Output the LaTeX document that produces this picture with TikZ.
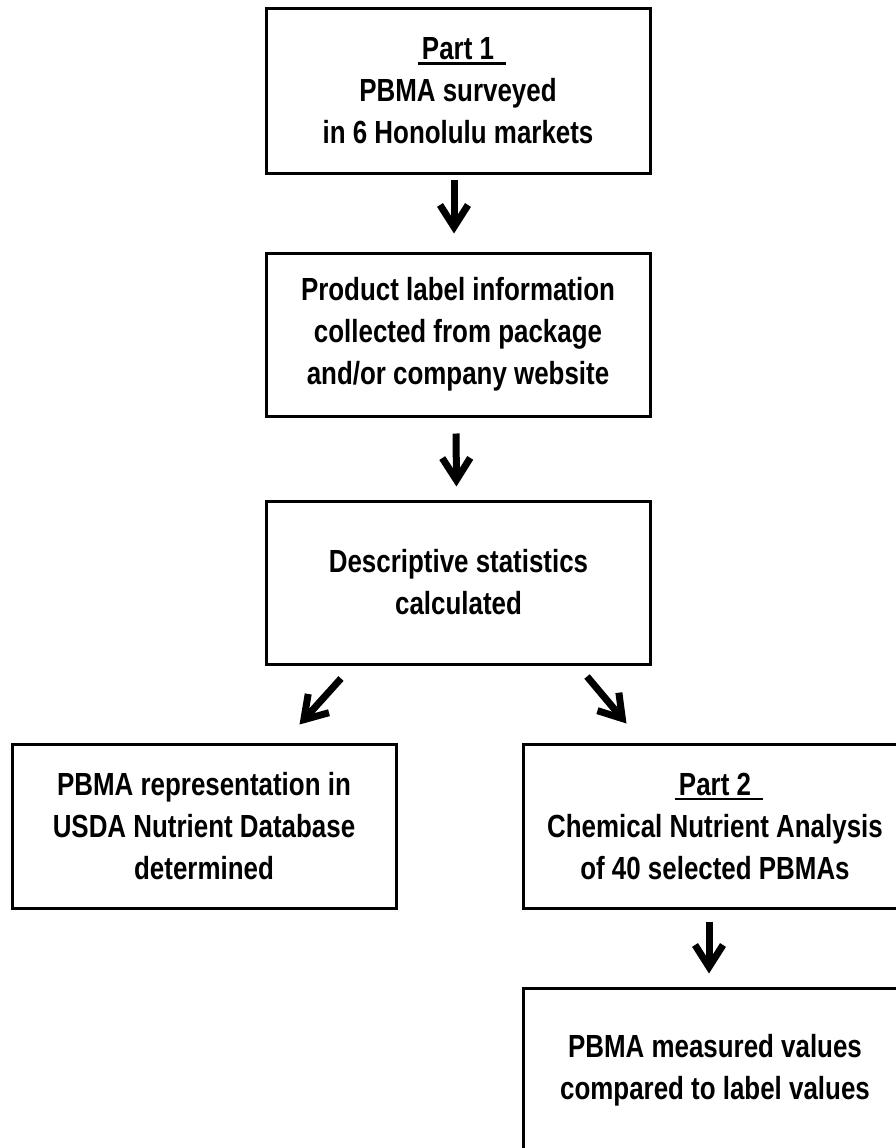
\documentclass[tikz,border=0pt]{standalone}
\usepackage{fontspec}
\setmainfont{Liberation Sans}[FakeStretch=0.81]
\usetikzlibrary{arrows.meta}
\newcommand\partul[1]{\setbox0\hbox{#1}\rlap{\kern-4pt\rule[-5pt]{\dimexpr\wd0+16pt\relax}{2.5pt}}\box0}
\tikzset{
  stepbox/.style={draw=black, line width=3pt, minimum width=384pt, minimum height=164pt,
    inner sep=0pt, align=center, font=\bfseries\fontsize{32}{42}\selectfont},
  arr/.style={line width=7pt, -{Straight Barb[length=22pt,width=28pt]}}
}
\begin{document}
\begin{tikzpicture}[x=1pt,y=-1pt]
\useasboundingbox (0,0) rectangle (896,1148);
\clip (0,0) rectangle (896,1148);
\fill[white] (0,0) rectangle (896,1148);
\node[stepbox] (b1) at (458,91) {\partul{Part 1}\\PBMA surveyed\\in 6 Honolulu markets};
\node[stepbox, minimum height=163pt] (b2) at (458,334.5) {Product label information\\collected from package\\and/or company website};
\node[stepbox, minimum height=163pt] (b3) at (458.5,582.5) {Descriptive statistics\\calculated};
\node[stepbox] (b4) at (204,826) {PBMA representation in\\USDA Nutrient Database\\determined};
\node[stepbox] (b5) at (715,826) {\partul{Part 2}\\Chemical Nutrient Analysis\\of 40 selected PBMAs};
\node[stepbox] (b6) at (715,1070) {PBMA measured values\\compared to label values};
\draw[arr, shorten <=5pt, shorten >=18pt] ([xshift=-4pt]b1.south) -- ([xshift=-4pt]b2.north);
\draw[arr, shorten <=16pt, shorten >=13pt] ([xshift=-2pt]b2.south) -- ([xshift=-2pt]b3.north);
\draw[arr] ([xshift=76pt,yshift=-13pt]b3.south west) -- ([xshift=289pt,yshift=18pt]b4.north west);
\draw[arr] ([xshift=-65pt,yshift=-11pt]b3.south east) -- ([xshift=105pt,yshift=19pt]b5.north west);
\draw[arr, shorten <=12pt, shorten >=13pt] ([xshift=-6pt]b5.south) -- ([xshift=-6pt]b6.north);
\end{tikzpicture}
\end{document}
